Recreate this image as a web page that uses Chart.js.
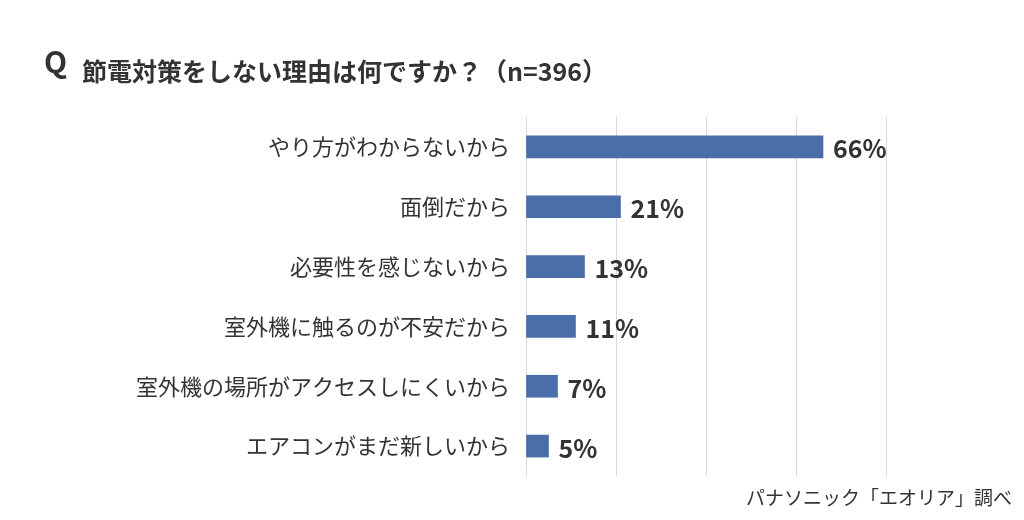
<!DOCTYPE html>
<html>
<head>
<meta charset="utf-8">
<script src="https://cdn.jsdelivr.net/npm/chart.js@4"></script>
<style>
  html, body { margin: 0; padding: 0; background: #fff; }
  #wrap { width: 1024px; height: 520px; position: relative; }
</style>
</head>
<body>
<div id="wrap"><canvas id="myChart"></canvas></div>
<script>
// Données du graphique
const raisons = ["やり方がわからないから", "面倒だから", "必要性を感じないから", "室外機に触るのが不安だから", "室外機の場所がアクセスしにくいから", "エアコンがまだ新しいから"];
const pourcentages = [66, 21, 13, 11, 7, 5];
const graduations = [0, 20, 40, 60, 80];

const titre = "節電対策をしない理由は何ですか？（n=396）";
const source = "パナソニック「エオリア」調べ";
const police = '"Noto Sans CJK JP", "Noto Sans", sans-serif';

// Plugin pour le titre, la source et les étiquettes de valeur
const decor = {
    id: 'decor',
    afterDraw(chart) {
        const ctx = chart.ctx;
        ctx.save();
        ctx.fillStyle = '#333';
        ctx.textBaseline = 'alphabetic';
        ctx.textAlign = 'left';
        ctx.font = 'bold 30px ' + police;
        ctx.fillText('Q', 44, 73);
        ctx.font = 'bold 25px ' + police;
        ctx.fillText(titre, 82, 81);

        ctx.font = '19px ' + police;
        ctx.textAlign = 'right';
        ctx.fillText(source, 1012, 505);

        // étiquettes au bout des barres
        const meta = chart.getDatasetMeta(0);
        ctx.font = 'bold 25px ' + police;
        ctx.textAlign = 'left';
        ctx.textBaseline = 'middle';
        meta.data.forEach(function (bar, i) {
            ctx.fillText(pourcentages[i] + '%', bar.x + 10, bar.y + 2);
        });
        ctx.restore();
    }
};

new Chart(document.getElementById('myChart').getContext('2d'), {
    type: 'bar',
    data: {
        labels: raisons,
        datasets: [{
            data: pourcentages,
            backgroundColor: '#4a6ea8',
            barThickness: 22
        }]
    },
    options: {
        indexAxis: 'y',
        responsive: true,
        maintainAspectRatio: false,
        animation: false,
        layout: { padding: { top: 117, bottom: 44, left: 10, right: 138 } },
        plugins: {
            legend: { display: false },
            tooltip: { enabled: false }
        },
        scales: {
            x: {
                min: 0,
                max: 80,
                afterBuildTicks(scale) {
                    scale.ticks = graduations.map(v => ({ value: v }));
                },
                ticks: { display: false },
                grid: { color: '#d9d9d9', lineWidth: 1, drawTicks: false },
                border: { display: false }
            },
            y: {
                afterFit(scale) { scale.width = 516; },
                ticks: {
                    color: '#333',
                    padding: 16,
                    font: { family: police, size: 22 }
                },
                grid: { display: false, drawTicks: false },
                border: { display: false }
            }
        }
    },
    plugins: [decor]
});
</script>
</body>
</html>
